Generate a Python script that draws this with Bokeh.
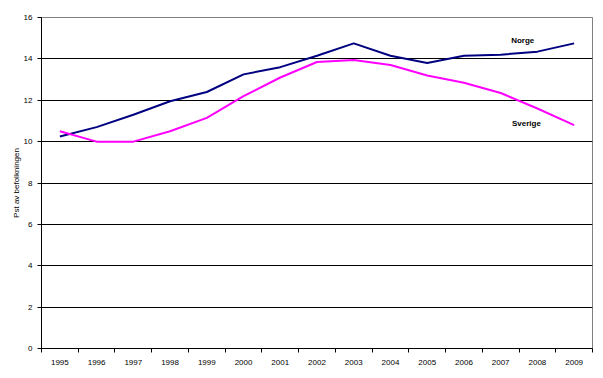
from bokeh.plotting import figure
from bokeh.models import FixedTicker, Label, Range1d
from bokeh.embed import file_html
from bokeh.resources import INLINE

years = list(range(1995, 2010))
norge = [10.25, 10.7, 11.3, 11.95, 12.4, 13.25, 13.6, 14.15, 14.75, 14.15, 13.8, 14.15, 14.2, 14.35, 14.75]
sverige = [10.5, 10.0, 10.0, 10.5, 11.15, 12.2, 13.1, 13.85, 13.95, 13.7, 13.2, 12.85, 12.35, 11.6, 10.8]
y_ticks = [0, 2, 4, 6, 8, 10, 12, 14, 16]

p = figure(width=595, height=370, output_backend="svg", toolbar_location=None,
           x_range=Range1d(years[0] - 0.5, years[-1] + 0.5), y_range=Range1d(0, 16),
           min_border_left=41, min_border_top=17, min_border_bottom=22, min_border_right=3)
p.background_fill_color = "white"
p.border_fill_color = "white"
p.outline_line_color = "#808080"
p.outline_line_width = 1

p.line(years, norge, line_color="#000080", line_width=2)
p.line(years, sverige, line_color="#FF00FF", line_width=2)

p.xaxis.ticker = FixedTicker(ticks=years, minor_ticks=[y - 0.5 for y in years] + [years[-1] + 0.5])
p.xaxis.major_tick_line_color = None
p.xaxis.minor_tick_line_color = "black"
p.xaxis.minor_tick_out = 4
p.xaxis.minor_tick_in = 0
p.xaxis.major_label_text_font_size = "8px"
p.xaxis.major_label_text_font = "Liberation Sans"
p.xaxis.major_label_text_color = "black"
p.xaxis.major_label_standoff = 5
p.xaxis.axis_line_color = "black"

p.yaxis.ticker = FixedTicker(ticks=y_ticks)
p.yaxis.minor_tick_line_color = None
p.yaxis.major_tick_out = 4
p.yaxis.major_tick_in = 0
p.yaxis.major_label_text_font_size = "8px"
p.yaxis.major_label_text_font = "Liberation Sans"
p.yaxis.major_label_text_color = "black"
p.yaxis.major_label_standoff = 5
p.yaxis.axis_label = "Pst av befolkningen"
p.yaxis.axis_label_text_font_size = "8px"
p.yaxis.axis_label_text_font = "Liberation Sans"
p.yaxis.axis_label_text_font_style = "normal"
p.yaxis.axis_label_text_color = "black"
p.yaxis.axis_label_standoff = 0
p.yaxis.axis_line_color = "black"

p.xgrid.grid_line_color = None
p.ygrid.grid_line_color = "black"
p.ygrid.grid_line_width = 1

p.add_layout(Label(x=2007.6, y=14.9, text="Norge", text_font="Liberation Sans",
                   text_font_size="8px", text_font_style="bold", text_align="center",
                   text_baseline="middle", text_color="black"))
p.add_layout(Label(x=2007.7, y=10.9, text="Sverige", text_font="Liberation Sans",
                   text_font_size="8px", text_font_style="bold", text_align="center",
                   text_baseline="middle", text_color="black"))

open("out.html", "w").write(file_html(p, INLINE))
